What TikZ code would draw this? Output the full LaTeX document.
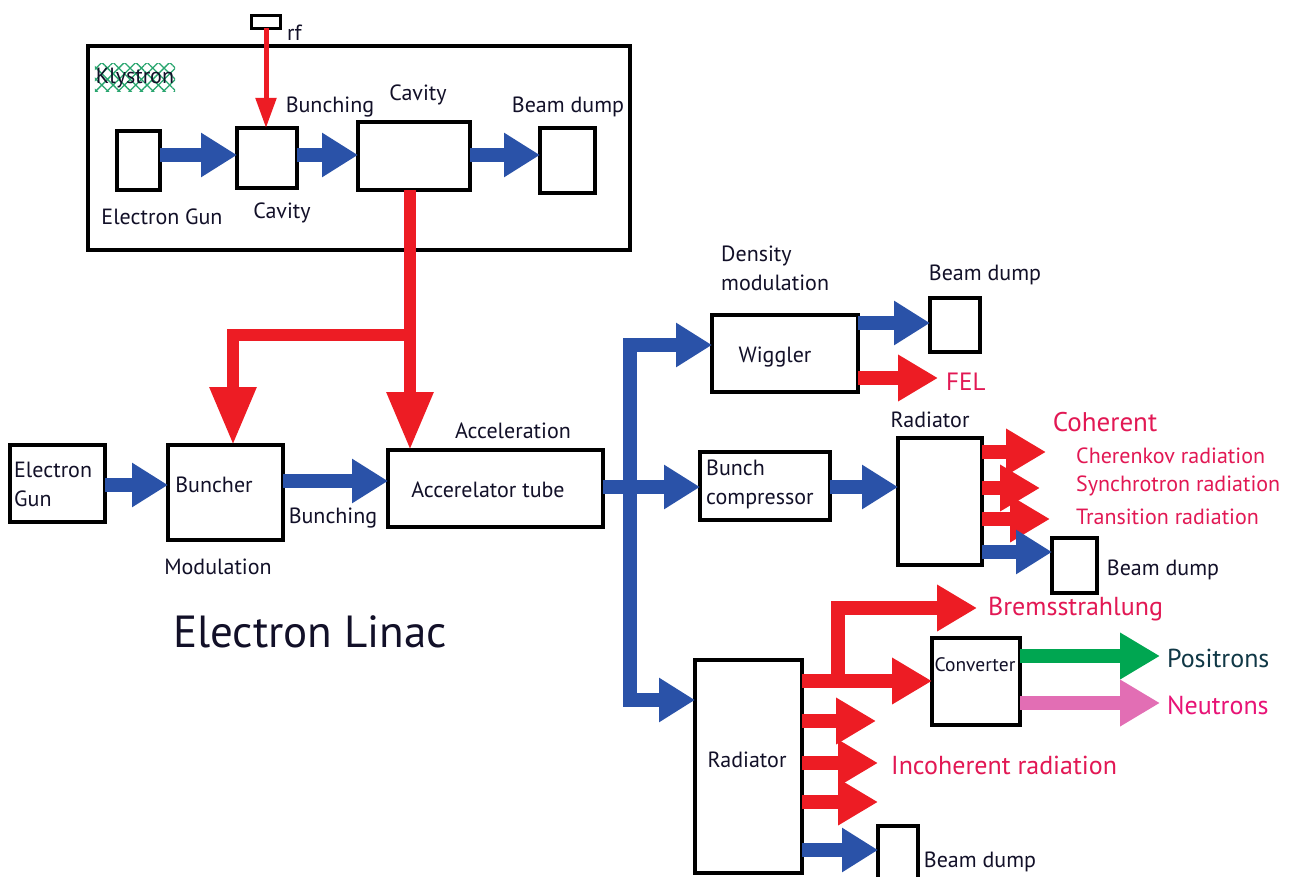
\documentclass[tikz,border=0pt]{standalone}
\usepackage{fontspec}
\setmainfont{PT Sans}
\usetikzlibrary{arrows.meta,patterns,patterns.meta}
\definecolor{bblue}{RGB}{42,82,168}
\definecolor{rred}{RGB}{237,28,36}
\definecolor{tred}{RGB}{226,24,84}
\definecolor{ggreen}{RGB}{0,166,81}
\definecolor{ppink}{RGB}{226,110,180}
\definecolor{pteal}{RGB}{16,56,70}
\definecolor{hatchc}{RGB}{40,165,110}
\definecolor{ink}{RGB}{18,16,40}
\begin{document}
\begin{tikzpicture}[x=1pt,y=-1pt,
  box/.style={draw=black, line width=3.4pt, inner sep=0pt, outer sep=0pt},
  lbl/.style={font=\fontsize{22}{29}\selectfont, inner sep=0pt, text=ink},
  rlbl/.style={font=\fontsize{22}{29}\selectfont, inner sep=0pt, text=tred},
  barrow/.style={draw=bblue, line width=14pt, line join=miter, -{Triangle[width=42pt,length=36pt]}},
  bline/.style={draw=bblue, line width=14pt, line join=miter},
  rarrow/.style={draw=rred, line width=14pt, line join=miter, -{Triangle[width=44pt,length=40pt]}},
  rbig/.style={draw=rred, line width=12pt, line join=miter, -{Triangle[width=44pt,length=58pt]}},
  rthin/.style={draw=rred, line width=5pt, -{Triangle[width=20pt,length=30pt]}},
  garrow/.style={draw=ggreen, line width=14pt, -{Triangle[width=44pt,length=40pt]}},
  parrow/.style={draw=ppink, line width=14pt, -{Triangle[width=44pt,length=40pt]}}
]
\useasboundingbox[fill=white] (0,0) rectangle (1301,877);

% ---------- Klystron ----------
\node[box, minimum width=542pt, minimum height=204pt] (kly) at (359,148) {};
\node[lbl, pattern={Hatch[angle=45,distance=8pt,line width=1.3pt]}, pattern color=hatchc, inner xsep=1pt, minimum height=28pt] (klab) at (135,78) {Klystron};
\node[box, line width=2.6pt, minimum width=29pt, minimum height=13pt] (rfbox) at (266,22) {};
\node[lbl, anchor=west] (rflab) at (287,33) {rf};
\node[box, minimum width=43pt, minimum height=59pt] (kgun) at (138.5,160.5) {};
\node[box, minimum width=60pt, minimum height=60pt] (kcav1) at (267,158) {};
\node[box, minimum width=112pt, minimum height=68pt] (kcav2) at (414,156) {};
\node[box, minimum width=55pt, minimum height=65pt] (kdump) at (567.5,160.5) {};
\node[lbl] (kgunlab) at (162,217) {Electron Gun};
\node[lbl] (kcav1lab) at (282,213) {Cavity};
\node[lbl] (kbunchlab) at (330,107) {Bunching};
\node[lbl] (kcav2lab) at (418,95) {Cavity};
\node[lbl] (kdumplab) at (568,107) {Beam dump};

\draw[rthin] (rfbox.south) -- (kcav1.north -| rfbox.south);
\draw[barrow] (kgun.east |- 0,155) -- (kcav1.west |- 0,155);
\draw[barrow] (kcav1.east |- 0,155) -- (kcav2.west |- 0,155);
\draw[barrow] (kcav2.east |- 0,155) -- (kdump.west |- 0,155);

% ---------- Linac ----------
\node[box, minimum width=95pt, minimum height=77pt] (egun) at (57.5,483.5) {};
\node[lbl, align=left, anchor=west] (eguntxt) at (14,484) {Electron\\Gun};
\node[box, minimum width=115pt, minimum height=95pt] (buncher) at (225.5,492.5) {};
\node[lbl] (bunchertxt) at (214,485) {Buncher};
\node[box, minimum width=215pt, minimum height=77pt] (acc) at (495.5,488.5) {};
\node[lbl] (acctxt) at (488,490) {Accerelator tube};
\node[lbl] (modlab) at (218,567) {Modulation};
\node[lbl] (bunchlab) at (333,518) {Bunching};
\node[lbl] (acclab) at (513,431) {Acceleration};
\node[inner sep=0pt, font=\fontsize{45}{50}\selectfont, text=ink] (title) at (310,632) {Electron Linac};

\coordinate (rsplit) at (410,335);
\draw[rbig] (kcav2.south -| rsplit) -- (rsplit) -- (233,335) -- (233,445);
\draw[rbig] (rsplit) -- (acc.north -| rsplit);

\draw[barrow] (egun.east |- 0,485) -- (buncher.west |- 0,485);
\draw[barrow] (buncher.east |- 0,481) -- (acc.west |- 0,481);

% ---------- branches ----------
\coordinate (trunk) at (630,487);
\draw[bline] (acc.east |- trunk) -- (trunk);

\node[box, minimum width=146pt, minimum height=77pt] (wiggler) at (785,353.5) {};
\node[lbl] (wigtxt) at (775,357) {Wiggler};
\node[lbl, align=left, anchor=west] (denslab) at (721,268) {Density\\modulation};
\node[box, minimum width=50pt, minimum height=54pt] (wdump) at (955,325) {};
\node[lbl] (wdumplab) at (985,275) {Beam dump};
\node[rlbl, font=\fontsize{25}{29}\selectfont, anchor=west] (fel) at (946,382) {FEL};

\node[box, minimum width=130pt, minimum height=68pt] (bc) at (765,486) {};
\node[lbl, align=left, anchor=west] (bctxt) at (706,484) {Bunch\\compressor};
\node[box, minimum width=84pt, minimum height=127pt] (rad1) at (940,501.5) {};
\node[lbl] (rad1lab) at (930,420) {Radiator};
\node[box, minimum width=45pt, minimum height=55pt] (d1) at (1074.5,565.5) {};
\node[lbl] (d1lab) at (1163,570) {Beam dump};
\node[rlbl, font=\fontsize{27}{30}\selectfont] (coh) at (1105,422) {Coherent};
\node[rlbl, anchor=west] (cher) at (1076,456) {Cherenkov radiation};
\node[rlbl, anchor=west] (sync) at (1076,486) {Synchrotron radiation};
\node[rlbl, anchor=west] (trans) at (1076,517) {Transition radiation};

\node[box, minimum width=107pt, minimum height=213pt] (rad2) at (748.5,766.5) {};
\node[lbl] (rad2txt) at (747,760) {Radiator};
\node[box, minimum width=88pt, minimum height=87pt] (conv) at (976,681.5) {};
\node[lbl, font=\fontsize{19.5}{24}\selectfont] (convtxt) at (975,665) {Converter};
\node[rlbl, font=\fontsize{26}{29}\selectfont, anchor=west] (brems) at (988,609) {Bremsstrahlung};
\node[inner sep=0pt, font=\fontsize{26}{29}\selectfont, text=pteal, anchor=west] (pos) at (1167,658) {Positrons};
\node[inner sep=0pt, font=\fontsize{26}{29}\selectfont, text=tred!80!magenta, anchor=west] (neu) at (1167,705) {Neutrons};
\node[rlbl, font=\fontsize{26}{29}\selectfont, anchor=west] (incoh) at (891,765) {Incoherent radiation};
\node[box, minimum width=40pt, minimum height=64pt] (d2) at (898,858) {};
\node[lbl] (d2lab) at (980,862) {Beam dump};

% trunk branches
\draw[barrow] (trunk) -- (630,345) -- (wiggler.west |- 0,345);
\draw[barrow] (trunk) -- (bc.west |- trunk);
\draw[barrow] (trunk) -- (630,700) -- (rad2.west |- 0,700);

% wiggler outputs
\draw[barrow] (wiggler.east |- 0,323) -- (wdump.west |- 0,323);
\coordinate (felend) at (938,378);
\draw[rarrow] (wiggler.east |- felend) -- (felend);

% bunch compressor
\draw[barrow] (bc.east |- 0,487) -- (rad1.west |- 0,487);
\coordinate (c1) at (1046,452);
\coordinate (c2) at (1040,488);
\coordinate (c3) at (1050,519);
\draw[rarrow] (rad1.east |- c1) -- (c1);
\draw[rarrow] (rad1.east |- c2) -- (c2);
\draw[rarrow] (rad1.east |- c3) -- (c3);
\draw[barrow] (rad1.east |- 0,552) -- (d1.west |- 0,552);

% radiator 2
\coordinate (bsplit) at (838,681);
\coordinate (bremsend) at (977,608);
\draw[rarrow] (rad2.east |- bsplit) -- (conv.west |- bsplit);
\draw[rarrow] (bsplit) -- (838,608) -- (bremsend);
\draw[garrow] (conv.east |- 0,656) -- (1160,656);
\draw[parrow] (conv.east |- 0,703) -- (1160,703);
\coordinate (i1) at (876,721);
\coordinate (i2) at (878,763);
\coordinate (i3) at (878,802);
\draw[rarrow] (rad2.east |- i1) -- (i1);
\draw[rarrow] (rad2.east |- i2) -- (i2);
\draw[rarrow] (rad2.east |- i3) -- (i3);
\draw[barrow] (rad2.east |- 0,850) -- (d2.west |- 0,850);
\end{tikzpicture}
\end{document}
